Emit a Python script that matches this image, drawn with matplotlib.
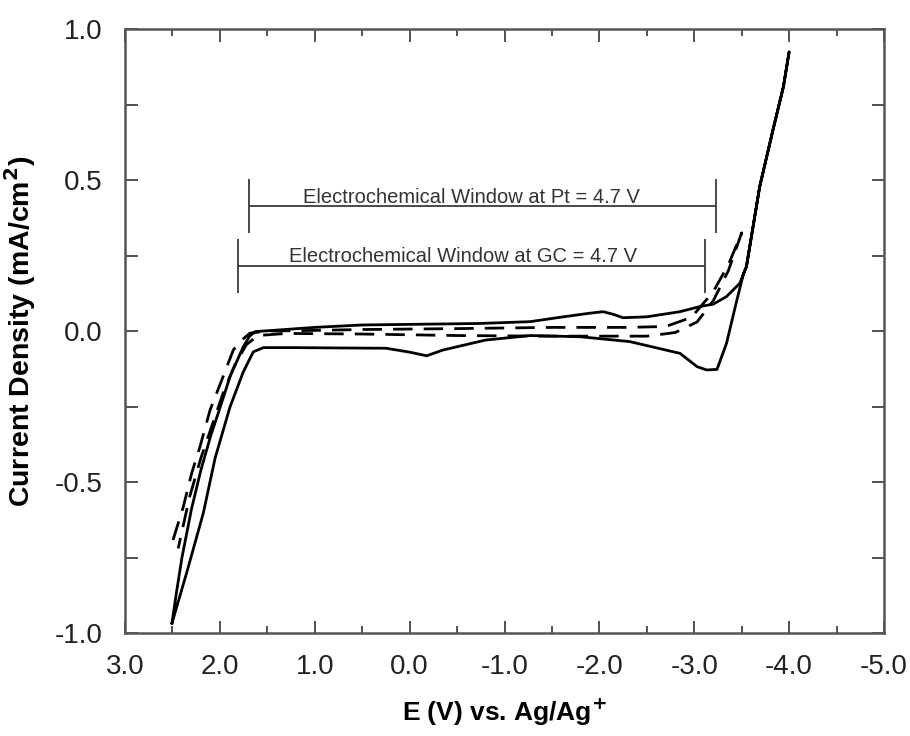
import numpy as np
import matplotlib
matplotlib.use('Agg')
import matplotlib.pyplot as plt
from matplotlib.ticker import MultipleLocator, FormatStrFormatter

# voltammogramme sur Pt (trait plein) : une boucle fermee
# branche aller de +2.5 V vers -4.0 V puis retour
pt_E = [2.505, 2.46, 2.40, 2.30, 2.20, 2.10, 2.00, 1.893, 1.80, 1.753, 1.69, 1.63,
        1.4, 1.0, 0.5, 0.0, -0.74, -1.27, -1.62, -1.90, -2.04, -2.15, -2.25, -2.50,
        -2.85, -3.06, -3.20, -3.34, -3.48, -3.55, -3.69, -3.83, -3.94, -4.0,
        -3.94, -3.83, -3.69, -3.55, -3.52, -3.45, -3.34, -3.24, -3.13, -3.03,
        -2.85, -2.32, -1.80, -1.27, -0.80, -0.35, -0.18, 0.0, 0.25, 0.8, 1.2,
        1.542, 1.648, 1.753, 1.893, 2.05, 2.175, 2.35, 2.505]
pt_j = [-0.967, -0.87, -0.75, -0.59, -0.46, -0.35, -0.255, -0.151, -0.085, -0.052,
        -0.018, -0.002, 0.003, 0.012, 0.02, 0.022, 0.025, 0.031, 0.047, 0.059, 0.064,
        0.055, 0.044, 0.047, 0.064, 0.081, 0.089, 0.114, 0.158, 0.213, 0.478, 0.666,
        0.809, 0.924,
        0.809, 0.666, 0.478, 0.213, 0.191, 0.103, -0.041, -0.127, -0.129, -0.118,
        -0.074, -0.035, -0.019, -0.015, -0.03, -0.063, -0.082, -0.07, -0.057,
        -0.056, -0.055, -0.055, -0.069, -0.135, -0.251, -0.42, -0.603, -0.80, -0.967]

# voltammogramme sur carbone vitreux (tirets)
gc_E = [2.494, 2.386, 2.297, 2.21, 2.104, 1.98, 1.859, 1.788, 1.683, 1.5, 1.0, 0.5,
        -0.5, -1.5, -2.3, -2.7, -2.97, -3.2, -3.36, -3.5,
        -3.36, -3.2, -3.03, -2.8, -2.5, -1.5, -0.5, 0.5, 1.3, 1.6, 1.72, 1.84,
        1.96, 2.08, 2.2, 2.32, 2.44]
gc_j = [-0.692, -0.582, -0.47, -0.383, -0.262, -0.162, -0.063, -0.035, -0.007, 0.0,
        0.002, 0.005, 0.008, 0.012, 0.012, 0.015, 0.045, 0.13, 0.22, 0.325,
        0.20, 0.10, 0.03, -0.005, -0.017, -0.017, -0.015, -0.01, -0.008, -0.015,
        -0.045, -0.11, -0.2, -0.31, -0.42, -0.55, -0.72]

# fenetres electrochimiques (bornes en V, hauteur de la barre en mA/cm2)
fenetre_pt = (1.69, -3.23)
fenetre_gc = (1.81, -3.11)
y_pt = 0.413
y_gc = 0.215
label_pt = 'Electrochemical Window at Pt = 4.7 V'
label_gc = 'Electrochemical Window at GC = 4.7 V'

plt.rcParams['font.family'] = ['Liberation Sans', 'DejaVu Sans']
plt.rcParams['axes.unicode_minus'] = False

fig = plt.figure(figsize=(9.1, 7.36), dpi=100)
ax = fig.add_axes([0.1374, 0.1399, 0.8340, 0.8207])

ax.plot(pt_E, pt_j, color='black', lw=2.0, solid_joinstyle='round')
ax.plot(gc_E, gc_j, color='black', lw=2.0, dashes=(7, 4))

# barres des fenetres
gris = '#3a3a3a'
for (a, b), yy, h in [(fenetre_pt, y_pt, 0.09), (fenetre_gc, y_gc, 0.09)]:
    ax.hlines(yy, a, b, color=gris, lw=1.3)
    ax.vlines([a, b], yy - h, yy + h, color=gris, lw=1.3)

ax.text(-0.65, y_pt + 0.012, label_pt, ha='center', va='baseline',
        fontsize=14.5, color='#333333')
ax.text(-0.56, y_gc + 0.015, label_gc, ha='center', va='baseline',
        fontsize=14.5, color='#333333')

ax.set_xlim(3.0, -5.0)
ax.set_ylim(-1.0, 1.0)
ax.xaxis.set_major_locator(MultipleLocator(1.0))
ax.xaxis.set_minor_locator(MultipleLocator(0.5))
ax.yaxis.set_major_locator(MultipleLocator(0.5))
ax.yaxis.set_minor_locator(MultipleLocator(0.25))
ax.xaxis.set_major_formatter(FormatStrFormatter('%.1f'))
ax.yaxis.set_major_formatter(FormatStrFormatter('%.1f'))

ax.tick_params(which='both', direction='in', top=True, right=True,
               color='#333333', width=1.2, labelsize=20, labelcolor='#222222')
ax.tick_params(axis='x', which='major', length=9, pad=15)
ax.tick_params(axis='x', which='minor', length=5)
ax.tick_params(axis='y', which='both', length=9, pad=16)

for s in ax.spines.values():
    s.set_color('#555555')
    s.set_linewidth(1.8)

ax.set_xlabel('E (V) vs. Ag/Ag$^{\\mathbf{+}}$', fontsize=19, fontweight='bold',
              labelpad=12)
ax.set_ylabel('Current Density (mA/cm$^{\\mathbf{2}}$)', fontsize=20.5,
              fontweight='bold', labelpad=12)

fig.savefig('out.png', dpi=100)
